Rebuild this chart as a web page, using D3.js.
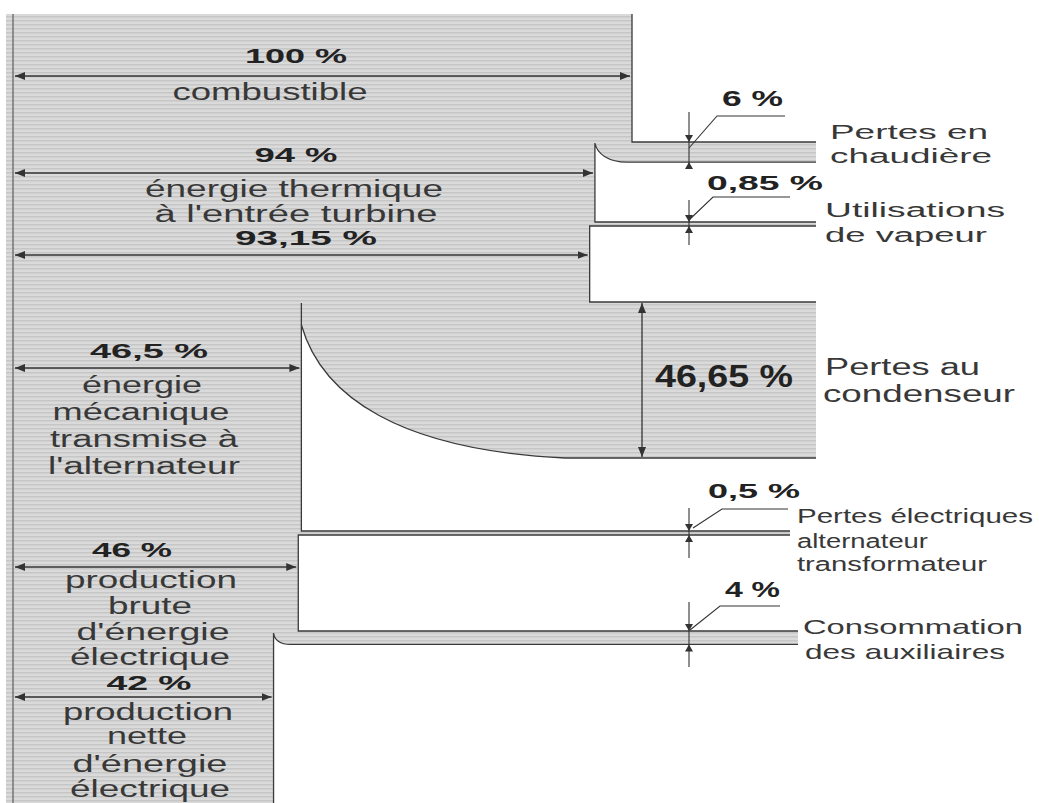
<!DOCTYPE html>
<html><head><meta charset="utf-8">
<script src="https://cdn.jsdelivr.net/npm/d3@7"></script>
<style>body{margin:0;background:#fff}svg{display:block}</style>
</head><body>
<script>
// ---------- DATA ----------
const stageValues = [100, 94, 93.15, 46.5, 46, 42];
const stageValueLabels = ["100 %", "94 %", "93,15 %", "46,5 %", "46 %", "42 %"];
const stageNames = [
  ["combustible"],
  ["énergie thermique", "à l'entrée turbine"],
  [],
  ["énergie", "mécanique", "transmise à", "l'alternateur"],
  ["production", "brute", "d'énergie", "électrique"],
  ["production", "nette", "d'énergie", "électrique"]
];
const lossValues = [6, 0.85, 46.65, 0.5, 4];
const lossValueLabels = ["6 %", "0,85 %", "46,65 %", "0,5 %", "4 %"];
const lossNames = [
  ["Pertes en", "chaudière"],
  ["Utilisations", "de vapeur"],
  ["Pertes au", "condenseur"],
  ["Pertes électriques", "alternateur", "transformateur"],
  ["Consommation", "des auxiliaires"]
];

// ---------- LAYOUT ----------
const W = 1039, H = 803;
const topY = 14, leftX = 13;
const bandEnds = [816, 816, 816, 790, 798];
const bandTops = [142, 222, 302, 531, 631];
const arrowYs = [76, 173, 255, 368, 567, 697];
const stageValueLayout = [
  {cx: 296, y: 63, w: 102}, {cx: 296, y: 162, w: 83}, {cx: 306, y: 245, w: 142},
  {cx: 149, y: 358, w: 118}, {cx: 132, y: 557, w: 80}, {cx: 149, y: 690, w: 85}
];
const stageNameLayout = [
  [{cx: 270, y: 100, w: 195}],
  [{cx: 294, y: 197, w: 298}, {cx: 296, y: 222, w: 283}],
  [],
  [{cx: 142, y: 393, w: 120}, {cx: 141, y: 420, w: 177}, {cx: 144, y: 447, w: 188}, {cx: 144, y: 474, w: 192}],
  [{cx: 151, y: 588, w: 172}, {cx: 150, y: 614, w: 84}, {cx: 153, y: 640, w: 153}, {cx: 150, y: 665, w: 160}],
  [{cx: 148, y: 720, w: 170}, {cx: 147, y: 744, w: 80}, {cx: 150, y: 772, w: 155}, {cx: 150, y: 797, w: 160}]
];
const lossNameLayout = [
  {size: 20, lines: [{x: 830, y: 139, w: 158}, {x: 830, y: 163, w: 162}]},
  {size: 20, lines: [{x: 825, y: 217, w: 180}, {x: 825, y: 242, w: 162}]},
  {size: 23, lines: [{x: 825, y: 375, w: 155}, {x: 823, y: 402, w: 192}]},
  {size: 20, lines: [{x: 797, y: 523, w: 236}, {x: 797, y: 548, w: 131}, {x: 797, y: 571, w: 190}]},
  {size: 21, lines: [{x: 803, y: 634, w: 220}, {x: 805, y: 659, w: 200}]}
];
const lossValueLayout = [
  {x: 722, y: 106, w: 61, size: 22}, {x: 707, y: 190, w: 116, size: 21},
  {x: 655, y: 387, w: 138, size: 32}, {x: 708, y: 498, w: 92, size: 21},
  {x: 725, y: 597, w: 55, size: 22}
];
const smallArrowX = 689, bigArrowX = 642;
const verticals = [[112, 168], [200, 245], null, [508, 558], [602, 667]];
const leaders = [[689,148,717,116,785],[689,220,713,197,790],null,[693,528,722,509,788],[690,630,720,606,780]];

const FONT = "'Liberation Sans', Arial, Helvetica, sans-serif";

// ---------- SCALES ----------
const x = d3.scaleLinear().domain([0, 100]).range([14, 632]);
const tScale = d3.scaleLinear().domain([0, d3.max(lossValues)]).range([0, 156]);
const thick = v => Math.max(4, tScale(v));
const bandBots = bandTops.map((t, i) => t + thick(lossValues[i]));

const svg = d3.select("body").append("svg").attr("width", W).attr("height", H);
const defs = svg.append("defs");
const pat = defs.append("pattern").attr("id", "stripes").attr("width", 8).attr("height", 4)
  .attr("patternUnits", "userSpaceOnUse");
pat.append("rect").attr("width", 8).attr("height", 4).attr("fill", "#dadada");
pat.append("rect").attr("width", 8).attr("height", 1.5).attr("fill", "#c6c6c6");
defs.append("marker").attr("id", "ah").attr("viewBox", "0 0 10 8").attr("refX", 10).attr("refY", 4)
  .attr("markerWidth", 10).attr("markerHeight", 8).attr("markerUnits", "userSpaceOnUse")
  .attr("orient", "auto-start-reverse")
  .append("path").attr("d", "M0,0L10,4L0,8Z").attr("fill", "#333");

// ---------- SHAPE ----------
const X = stageValues.map(v => x(v));
const [b0, b1, b2, b3, b4] = bandTops;
const [e0, e1, e2, e3, e4] = bandBots;
const [r0, r1, r2, r3, r4] = bandEnds;
const condStartY = 325, condEndX = 565;
const p = d3.path();
p.moveTo(6, topY);
p.lineTo(X[0], topY);
p.lineTo(X[0], b0);
p.lineTo(r0, b0);
p.lineTo(r0, e0);
p.lineTo(X[1] + 32, e0);
p.bezierCurveTo(X[1] + 14, e0, X[1] + 2, e0 - 8, X[1], b0 + 1);
p.lineTo(X[1], b1);
p.lineTo(r1, b1);
p.lineTo(r1, e1);
p.lineTo(X[2], e1);
p.lineTo(X[2], b2);
p.lineTo(r2, b2);
p.lineTo(r2, e2);
p.lineTo(condEndX, e2);
p.bezierCurveTo(400, e2 - 8, 322, 397, X[3], condStartY);
p.lineTo(X[3], b3);
p.lineTo(r3, b3);
p.lineTo(r3, e3);
p.lineTo(X[4], e3);
p.lineTo(X[4], b4);
p.lineTo(r4, b4);
p.lineTo(r4, e4);
p.lineTo(X[5] + 17, e4);
p.bezierCurveTo(X[5] + 7, e4, X[5] + 1, e4 - 4, X[5], b4 + 2);
p.lineTo(X[5], H);
p.lineTo(6, H);
p.closePath();
svg.append("path").attr("d", p.toString()).attr("fill", "url(#stripes)");

// outlines
const lineG = svg.append("g").attr("fill", "none").attr("stroke", "#3a3a3a").attr("stroke-width", 1.3);
const seg = d => lineG.append("path").attr("d", d);
seg(`M${leftX},${topY}V${H}`).attr("stroke", "#666");
seg(`M${X[0]},${topY}V${b0}H${r0}`);
seg(`M${r0},${e0}H${X[1] + 32}C${X[1] + 14},${e0} ${X[1] + 2},${e0 - 8} ${X[1]},${b0 + 1}V${b1}H${r1}`);
seg(`M${r1},${e1}H${X[2]}V${b2}H${r2}`);
seg(`M${r2},${e2}H${condEndX}C400,${e2 - 8} 322,397 ${X[3]},${condStartY}`);
seg(`M${X[3]},${b2 + 1}V${b3}H${r3}`);
seg(`M${r3},${e3}H${X[4]}V${b4}H${r4}`);
seg(`M${r4},${e4}H${X[5] + 17}C${X[5] + 7},${e4} ${X[5] + 1},${e4 - 4} ${X[5]},${b4 + 2}V${H}`);

// ---------- STAGE ARROWS & LABELS ----------
const arrows = svg.append("g").attr("stroke", "#333").attr("stroke-width", 1.3);
stageValues.forEach((v, i) => {
  arrows.append("line").attr("x1", 15).attr("x2", x(v) - 2)
    .attr("y1", arrowYs[i]).attr("y2", arrowYs[i])
    .attr("marker-start", "url(#ah)").attr("marker-end", "url(#ah)");
});
const txt = svg.append("g").attr("font-family", FONT);
stageValueLabels.forEach((s, i) => {
  const L = stageValueLayout[i];
  txt.append("text").attr("x", L.cx).attr("y", L.y).attr("text-anchor", "middle")
    .attr("font-size", 21).attr("font-weight", "bold").attr("fill", "#222")
    .attr("textLength", L.w).attr("lengthAdjust", "spacingAndGlyphs").text(s);
});
stageNames.forEach((lines, i) => {
  lines.forEach((s, j) => {
    const L = stageNameLayout[i][j];
    txt.append("text").attr("x", L.cx).attr("y", L.y).attr("text-anchor", "middle")
      .attr("font-size", 23).attr("fill", "#383838")
      .attr("textLength", L.w).attr("lengthAdjust", "spacingAndGlyphs").text(s);
  });
});

// ---------- LOSS ARROWS & LABELS ----------
lossValues.forEach((v, i) => {
  const top = bandTops[i], bot = bandBots[i];
  if (verticals[i]) {
    const [y1, y2] = verticals[i];
    arrows.append("line").attr("x1", smallArrowX).attr("x2", smallArrowX).attr("y1", y1).attr("y2", y2)
      .attr("stroke-width", 1.1);
    arrows.append("path").attr("stroke", "none").attr("fill", "#333")
      .attr("d", `M${smallArrowX - 4},${top - 7}L${smallArrowX + 4},${top - 7}L${smallArrowX},${top}Z`);
    arrows.append("path").attr("stroke", "none").attr("fill", "#333")
      .attr("d", `M${smallArrowX - 4},${bot + 7}L${smallArrowX + 4},${bot + 7}L${smallArrowX},${bot}Z`);
    const [lx1, ly1, lx2, ly2, lx3] = leaders[i];
    arrows.append("path").attr("fill", "none").attr("stroke-width", 1.1)
      .attr("d", `M${lx1},${ly1}L${lx2},${ly2}H${lx3}`);
  } else {
    arrows.append("line").attr("x1", bigArrowX).attr("x2", bigArrowX).attr("y1", top + 1).attr("y2", bot - 1)
      .attr("marker-start", "url(#ah)").attr("marker-end", "url(#ah)");
  }
  const V = lossValueLayout[i];
  txt.append("text").attr("x", V.x).attr("y", V.y).attr("font-size", V.size)
    .attr("font-weight", "bold").attr("fill", "#222")
    .attr("textLength", V.w).attr("lengthAdjust", "spacingAndGlyphs").text(lossValueLabels[i]);
  const N = lossNameLayout[i];
  lossNames[i].forEach((s, j) => {
    const L = N.lines[j];
    txt.append("text").attr("x", L.x).attr("y", L.y).attr("font-size", N.size).attr("fill", "#383838")
      .attr("textLength", L.w).attr("lengthAdjust", "spacingAndGlyphs").text(s);
  });
});
</script>
</body></html>
